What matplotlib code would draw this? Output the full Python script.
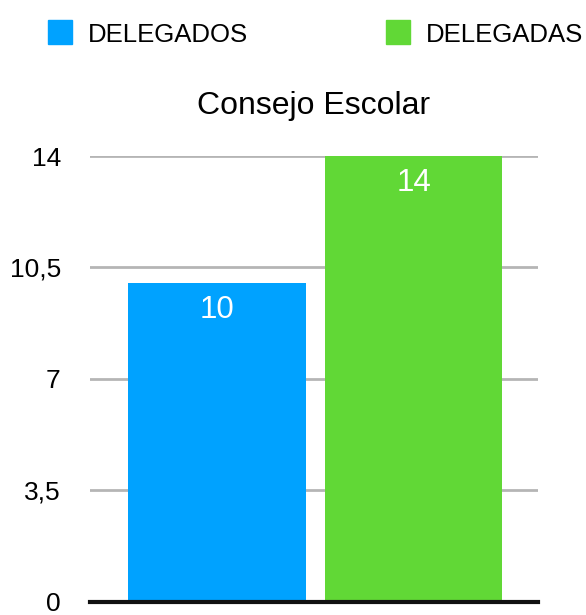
import matplotlib
matplotlib.use("Agg")
import matplotlib.pyplot as plt
from matplotlib.patches import Rectangle

# Data
categories = ["DELEGADOS", "DELEGADAS"]
values = [10, 14]
colors = ["#00A2FF", "#61D836"]
yticks = [0, 3.5, 7, 10.5, 14]
ytick_labels = ["0", "3,5", "7", "10,5", "14"]
title = "Consejo Escolar"

plt.rcParams['font.family'] = ['Liberation Sans', 'DejaVu Sans']

W, H = 586, 615
fig = plt.figure(figsize=(W / 100, H / 100), dpi=100)
ax = fig.add_axes([90 / W, 1 - 601.5 / H, 448 / W, (601.5 - 156) / H])

x = list(range(len(categories)))
bars = ax.bar(x, values, width=0.903, color=colors, zorder=2)
ax.set_xlim(-0.645, 1.633)
ax.set_ylim(0, 14)

# value labels inside bars
for b, v in zip(bars, values):
    ax.annotate(str(v), (b.get_x() + b.get_width() / 2, v),
                xytext=(0, -25), textcoords='offset points',
                ha='center', va='baseline', color='white', fontsize=22.5, zorder=3)

ax.set_yticks(yticks)
ax.set_yticklabels(ytick_labels, fontsize=19)
ax.tick_params(axis='y', length=0, pad=21)
ax.set_xticks([])
ax.yaxis.grid(True, color='#b5b5b5', linewidth=2, zorder=0)
ax.set_axisbelow(True)
for s in ['top', 'right', 'left']:
    ax.spines[s].set_visible(False)
ax.spines['bottom'].set_linewidth(3)
ax.spines['bottom'].set_color('#111111')
ax.spines['bottom'].set_zorder(4)

ax.set_title(title, fontsize=23, pad=30)

# legend across top
leg_x = [48, 386]
for lx, lab, c in zip(leg_x, categories, colors):
    fig.patches.append(Rectangle((lx / W, 1 - 44 / H), 24 / W, 24 / H,
                                 transform=fig.transFigure, color=c))
    fig.text((lx + 40) / W, 1 - 42 / H, lab, fontsize=18.5, va='baseline', ha='left')

fig.savefig("out.png", dpi=100)
